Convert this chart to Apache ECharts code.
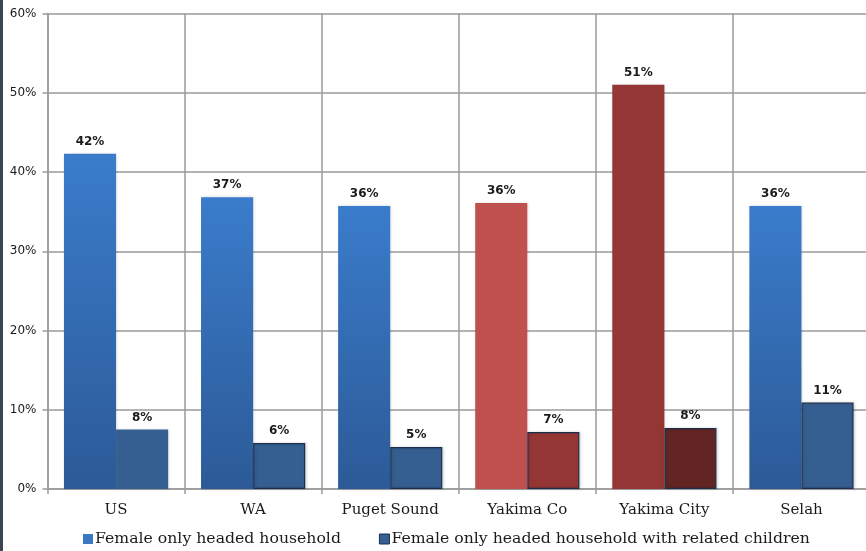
<!DOCTYPE html>
<html>
<head>
<meta charset="utf-8">
<script src="https://cdn.jsdelivr.net/npm/echarts@6/dist/echarts.min.js"></script>
<style>
  html, body { margin: 0; padding: 0; background: #ffffff; overflow: hidden; }
  /* canvas is a few pixels wider than the page so the plot runs off the right edge */
  #chart { width: 870px; height: 551px; }
</style>
</head>
<body>
<div id="chart"></div>
<script>
// Share of households headed by a woman only, by area (percent)
const categories = ['US', 'WA', 'Puget Sound', 'Yakima Co', 'Yakima City', 'Selah'];
const femaleHeaded = [42.3, 36.8, 35.7, 36.1, 51.0, 35.7];
const femaleHeadedWithChildren = [7.5, 5.8, 5.3, 7.2, 7.7, 10.9];
const seriesNames = ['Female only headed household', 'Female only headed household with related children'];
const yTicks = [0, 10, 20, 30, 40, 50, 60];

// Yakima areas are highlighted in reds
const highlightMain = { 'Yakima Co': '#c0504d', 'Yakima City': '#943634' };
const highlightSub = { 'Yakima Co': '#943634', 'Yakima City': '#632523' };

function blueGradient() {
  return new echarts.graphic.LinearGradient(0, 0, 0, 1, [
    { offset: 0, color: '#3a7ccb' },
    { offset: 1, color: '#2c5a97' }
  ]);
}

const mainData = femaleHeaded.map((v, i) => {
  const c = categories[i];
  return {
    value: v,
    itemStyle: { color: highlightMain[c] || blueGradient() }
  };
});

const subData = femaleHeadedWithChildren.map((v, i) => {
  const c = categories[i];
  return {
    value: v,
    itemStyle: {
      color: highlightSub[c] || '#355f91',
      borderColor: i === 0 ? 'rgba(0,0,0,0)' : '#1c2f4c',
      borderWidth: i === 0 ? 0 : 1.2
    }
  };
});

const labelStyle = {
  show: true,
  position: 'top',
  distance: 6,
  fontFamily: 'DejaVu Sans',
  fontWeight: 'bold',
  fontSize: 12,
  color: '#1a1a1a',
  formatter: p => Math.round(p.value) + '%'
};

const chart = echarts.init(document.getElementById('chart'), null, { renderer: 'canvas' });
chart.setOption({
  animation: false,
  backgroundColor: '#ffffff',
  graphic: [{
    type: 'rect',
    left: 0, top: 0,
    shape: { width: 3, height: 551 },
    style: { fill: '#3c4650' },
    z: 100
  }],
  grid: { left: 47.5, top: 13.5, right: 0, bottom: 62, containLabel: false },
  legend: {
    bottom: 4,
    left: 83,
    padding: 0,
    itemWidth: 10,
    itemHeight: 10,
    itemGap: 38,
    icon: 'rect',
    textStyle: { fontFamily: 'DejaVu Serif', fontSize: 15.7, color: '#1a1a1a', padding: [0, 0, 0, -3] },
    data: [
      { name: seriesNames[0], itemStyle: { color: '#3a78c6' } },
      { name: seriesNames[1], itemStyle: { color: '#355f91', borderColor: '#1c2f4c', borderWidth: 1 } }
    ]
  },
  xAxis: {
    type: 'category',
    data: categories,
    axisLine: { show: true, lineStyle: { color: '#9a9a9a', width: 1.5 } },
    axisTick: { show: true, length: 5, lineStyle: { color: '#9a9a9a', width: 1.5 } },
    splitLine: { show: true, lineStyle: { color: '#9a9a9a', width: 1.5 } },
    axisLabel: { fontFamily: 'DejaVu Serif', fontSize: 15, color: '#1a1a1a', margin: 14 }
  },
  yAxis: {
    type: 'value',
    min: yTicks[0],
    max: yTicks[yTicks.length - 1],
    interval: 10,
    axisLine: { show: true, lineStyle: { color: '#9a9a9a', width: 1.5 } },
    axisTick: { show: true, length: 5, lineStyle: { color: '#9a9a9a', width: 1.5 } },
    splitLine: { show: true, lineStyle: { color: '#9a9a9a', width: 1.5 } },
    axisLabel: { fontFamily: 'DejaVu Sans', fontSize: 12, color: '#1a1a1a', margin: 11, formatter: v => v + '%' }
  },
  series: [
    {
      name: seriesNames[0],
      type: 'bar',
      data: mainData,
      barGap: '0%',
      barCategoryGap: '24%',
      itemStyle: { shadowBlur: 3, shadowColor: 'rgba(0,0,0,0.18)', shadowOffsetX: 1 },
      label: labelStyle
    },
    {
      name: seriesNames[1],
      type: 'bar',
      data: subData,
      barGap: '0%',
      barCategoryGap: '24%',
      itemStyle: { shadowBlur: 3, shadowColor: 'rgba(0,0,0,0.18)', shadowOffsetX: 1 },
      label: labelStyle
    }
  ]
});
</script>
</body>
</html>
